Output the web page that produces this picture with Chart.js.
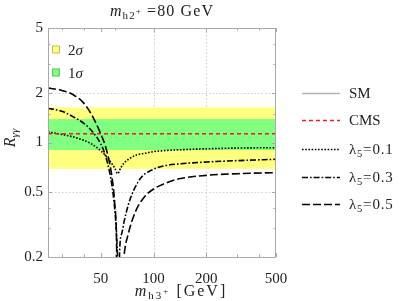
<!DOCTYPE html>
<html><head><meta charset="utf-8">
<script src="https://cdn.jsdelivr.net/npm/chart.js@4/dist/chart.umd.min.js"></script>
<style>html,body{margin:0;padding:0;background:#fff;overflow:hidden}#wrap{width:409px;height:301px;position:relative}</style>
</head><body><div id="wrap"><canvas id="c" width="409" height="301"></canvas></div>
<script>
// ---- data ----
const massL01 = [25,30,35,40,45,50,55,58,60,62.5,65,68,72,80,90,100,120,150,200,300,500];
const rL01    = [1.16,1.12,1.08,1.03,0.97,0.89,0.80,0.74,0.70,0.645,0.70,0.75,0.79,0.84,0.86,0.88,0.895,0.905,0.915,0.925,0.93];
const massL03 = [25,30,35,40,45,50,53,56,58,60,61.5,62.5,63.3,64.1,66,68,72,77,86,98,115,140,200,300,500];
const rL03    = [1.62,1.55,1.43,1.31,1.16,0.98,0.84,0.67,0.54,0.40,0.28,0.18,0.10,0.22,0.28,0.33,0.42,0.51,0.62,0.68,0.72,0.74,0.76,0.775,0.79];
const massL05 = [25,30,35,40,44,47,50,53,56,58,60,61.5,63,65,67.8,72,79,88,100,115,140,200,300,500];
const rL05    = [2.15,2.08,1.95,1.74,1.50,1.31,1.13,0.96,0.76,0.61,0.43,0.25,0.03,0.10,0.20,0.28,0.38,0.46,0.52,0.56,0.60,0.63,0.645,0.655];
const massRange = [25,500];
const smValue = 1;
const cmsValue = 1.13;
const band1Sigma = [0.90,1.39];
const band2Sigma = [0.69,1.64];
const xTicks = [50,100,200,500];
const xMinorTicks = [30,40,60,300,400];
const yTicks = [0.2,0.5,1,2,5];
const yMinorTicks = [0.3,0.4,1.5,3,4];
const xGridValues = [100,200];
const yGridValues = [0.5,1,2];
const seriesNames = ['SM','CMS','λ5=0.1','λ5=0.3','λ5=0.5'];
const bandNames = ['2σ','1σ'];

const F = '"Liberation Serif","Times New Roman",serif';
const pts = (xs,ys)=>xs.map((v,i)=>({x:v,y:ys[i]}));
const dashes = [[],[4,3],[1.6,1.6],[6,2,1.6,2],[8,3]];
const colors = ['#b4b4b4','#ee1c1c','#000','#000','#000'];

function rich(ctx, parts, x, y, align, sp){
  sp = sp||0;
  let w=0;
  parts.forEach(p=>{ctx.font=(p[2]?'italic ':'')+p[1]+'px '+F; for(const ch of p[0]) w+=ctx.measureText(ch).width+sp;});
  let sx = align==='center'? x-w/2 : x;
  parts.forEach(p=>{ctx.font=(p[2]?'italic ':'')+p[1]+'px '+F;
    for(const ch of p[0]){ctx.fillText(ch,sx,y+(p[3]||0)); sx+=ctx.measureText(ch).width+sp;}});
}
function labelParts(s,size){
  if(s.startsWith('λ5')) return [['λ',size],['5',size*0.7,false,3],[s.slice(2),size]];
  return [[s,size]];
}

const deco = {
  id:'deco',
  beforeDatasetsDraw(chart){
    const {ctx, chartArea:a, scales:{x,y}} = chart;
    ctx.save(); ctx.strokeStyle='#cfcfcf'; ctx.lineWidth=1; ctx.setLineDash([1.5,2]);
    xGridValues.forEach(v=>{const p=Math.round(x.getPixelForValue(v))+0.5; ctx.beginPath(); ctx.moveTo(p,a.top); ctx.lineTo(p,a.bottom); ctx.stroke();});
    yGridValues.forEach(v=>{const p=Math.round(y.getPixelForValue(v))+0.5; ctx.beginPath(); ctx.moveTo(a.left,p); ctx.lineTo(a.right,p); ctx.stroke();});
    ctx.restore();
  },
  afterDatasetDraw(chart,args){
    if(args.index!==0) return;
    const {ctx, chartArea:a, scales:{y}} = chart;
    ctx.save();
    ctx.fillStyle='rgb(255,255,128)';
    let t=y.getPixelForValue(band2Sigma[1]), b=y.getPixelForValue(band2Sigma[0]);
    ctx.fillRect(a.left,t,a.right-a.left,b-t);
    ctx.fillStyle='rgb(128,255,128)';
    t=y.getPixelForValue(band1Sigma[1]); b=y.getPixelForValue(band1Sigma[0]);
    ctx.fillRect(a.left,t,a.right-a.left,b-t);
    ctx.restore();
  },
  afterDraw(chart){
    const {ctx, chartArea:a, scales:{x,y}} = chart;
    ctx.save();
    ctx.strokeStyle='#a8a8a8'; ctx.lineWidth=1; ctx.setLineDash([]);
    ctx.strokeRect(a.left+0.5,a.top+0.5,a.right-a.left-1,a.bottom-a.top);
    const tk=(v,len,axis)=>{
      if(axis==='x'){const p=Math.round(x.getPixelForValue(v))+0.5;
        ctx.beginPath();ctx.moveTo(p,a.bottom);ctx.lineTo(p,a.bottom-len);ctx.moveTo(p,a.top);ctx.lineTo(p,a.top+len);ctx.stroke();}
      else {const p=Math.round(y.getPixelForValue(v))+0.5;
        ctx.beginPath();ctx.moveTo(a.left,p);ctx.lineTo(a.left+len,p);ctx.moveTo(a.right,p);ctx.lineTo(a.right-len,p);ctx.stroke();}
    };
    xTicks.forEach(v=>tk(v,4,'x')); xMinorTicks.forEach(v=>tk(v,2.5,'x'));
    yTicks.forEach(v=>tk(v,4,'y')); yMinorTicks.forEach(v=>tk(v,2.5,'y'));
    ctx.textBaseline='alphabetic';
    const sq=[['rgb(255,255,128)',49.5],['rgb(128,255,128)',72.5]];
    sq.forEach((s,i)=>{
      ctx.fillStyle=s[0]; ctx.fillRect(52,s[1]-4,8,8);
      ctx.strokeStyle='rgba(0,0,0,0.25)'; ctx.strokeRect(52.5,s[1]-3.5,7,7);
      ctx.fillStyle='#222';
      rich(ctx,[[bandNames[i][0],15],[bandNames[i].slice(1),15,true]],68,s[1]+5,'left');
    });
    const ly=[93,120,149,177,204];
    seriesNames.forEach((n,i)=>{
      ctx.strokeStyle=colors[i]; ctx.lineWidth=1.5; ctx.setLineDash(dashes[i]);
      ctx.beginPath(); ctx.moveTo(302,ly[i]+0.5); ctx.lineTo(340,ly[i]+0.5); ctx.stroke();
      ctx.setLineDash([]); ctx.fillStyle='#222';
      rich(ctx,labelParts(n,15),349,ly[i]+5,'left',i>=2?0.8:0);
    });
    ctx.fillStyle='#222';
    rich(ctx,[['m',16,true],['h2',11,false,3],['+',9,false,-2],[' =80 GeV',16]],(a.left+a.right)/2,16,'center',1.1);
    rich(ctx,[['m',16,true],['h3',11,false,3],['+',9,false,-2],[' [GeV]',16]],181,296,'center',2);
    ctx.translate(15,138); ctx.rotate(-Math.PI/2);
    rich(ctx,[['R',16,true],['γγ',11,true,3]],0,0,'center');
    ctx.restore();
  }
};

new Chart(document.getElementById('c'),{
  type:'scatter',
  data:{datasets:[
    {label:seriesNames[0],data:pts(massRange,[smValue,smValue]),order:5},
    {label:seriesNames[1],data:pts(massRange,[cmsValue,cmsValue]),order:0},
    {label:seriesNames[2],data:pts(massL01,rL01),order:0},
    {label:seriesNames[3],data:pts(massL03,rL03),order:0},
    {label:seriesNames[4],data:pts(massL05,rL05),order:0}
  ].map((d,i)=>Object.assign(d,{showLine:true,pointRadius:0,borderColor:colors[i],borderWidth:i>=2?1.6:1.5,borderDash:dashes[i],cubicInterpolationMode:'monotone',fill:false}))},
  options:{
    responsive:false,animation:false,
    layout:{padding:{left:0,top:28,right:133,bottom:0}},
    plugins:{legend:{display:false},tooltip:{enabled:false},title:{display:false}},
    scales:{
      x:{type:'logarithmic',min:25,max:500,
        grid:{display:false,drawTicks:false},border:{display:false},
        afterBuildTicks:s=>{s.ticks=xTicks.map(v=>({value:v}));},
        afterFit:s=>{s.height=44;},
        ticks:{autoSkip:false,maxRotation:0,minRotation:0,padding:13,color:'#222',font:{family:F,size:15},callback:v=>String(v)}},
      y:{type:'logarithmic',min:0.2,max:5,
        grid:{display:false,drawTicks:false},border:{display:false},
        afterBuildTicks:s=>{s.ticks=yTicks.map(v=>({value:v}));},
        afterFit:s=>{s.width=48;},
        ticks:{autoSkip:false,padding:5,color:'#222',font:{family:F,size:15},callback:v=>String(v)}}
    }
  },
  plugins:[deco]
});
</script></body></html>
